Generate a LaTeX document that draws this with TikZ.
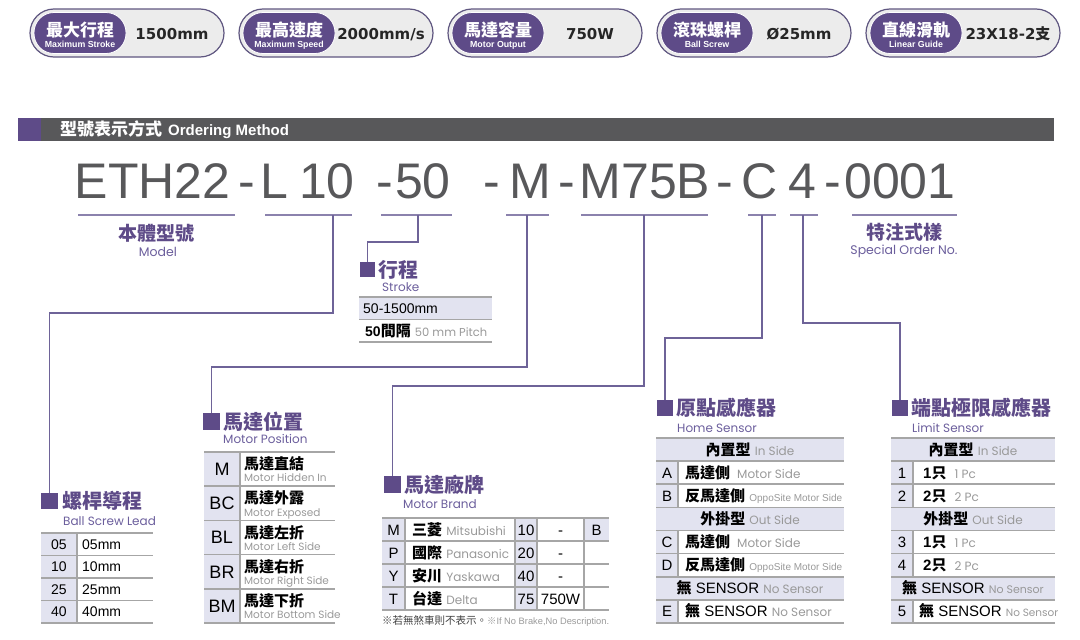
\documentclass[tikz,border=0pt]{standalone}
\usepackage{fontspec}
\setmainfont{Liberation Sans}
\newfontfamily\cjk{Noto Sans CJK TC}
\newfontfamily\geo{Poppins}
\newfontfamily\blockfont{DejaVu Sans}
\usetikzlibrary{positioning}

\definecolor{darkpurple}{HTML}{5E4B88}
\definecolor{subpurple}{HTML}{6B5E9C}
\definecolor{linepurple}{HTML}{6E6398}
\definecolor{lavender}{HTML}{E2E3F0}
\definecolor{rulegray}{HTML}{A6A6A6}
\definecolor{bargray}{HTML}{58585A}
\definecolor{codegray}{HTML}{58585A}
\definecolor{notegray}{HTML}{999999}
\definecolor{pillgray}{HTML}{ECECEC}
\definecolor{pilledge}{HTML}{5F5680}

\newcommand{\cnb}[1]{{\cjk\bfseries #1}}
\newcommand{\engray}[2][12]{{\geo\fontsize{#1}{#1}\selectfont\color{notegray}#2}}

\tikzset{
  pillout/.style={draw=pilledge, line width=1.2pt, fill=pillgray, rounded corners=24pt},
  pillin/.style={draw=white, line width=0.8pt, fill=darkpurple, rounded corners=20pt},
  pillcn/.style={anchor=base, inner sep=0pt, text=white, font=\cjk\bfseries\fontsize{17}{17}\selectfont},
  pillen/.style={anchor=base, inner sep=0pt, text=white, font=\bfseries\fontsize{8.8}{8.8}\selectfont},
  pillval/.style={anchor=base, inner sep=0pt, text=black!85, font=\blockfont\bfseries\fontsize{15}{15}\selectfont},
  codepart/.style={anchor=base, inner sep=0pt, text=codegray, font=\fontsize{50}{50}\selectfont},
  uline/.style={draw=linepurple!80, line width=1.1pt},
  connline/.style={draw=linepurple, line width=1.3pt},
  sqmark/.style={fill=darkpurple, minimum size=16.5pt, inner sep=0pt},
  ttl/.style={anchor=west, inner sep=0pt, text=darkpurple, font=\cjk\bfseries\fontsize{20}{20}\selectfont},
  subttl/.style={anchor=base west, inner sep=0pt, text=subpurple, font=\geo\fontsize{12}{12}\selectfont},
  lblcn/.style={anchor=base, inner sep=0pt, text=darkpurple, font=\cjk\bfseries\fontsize{19}{19}\selectfont},
  lblen/.style={anchor=base, inner sep=0pt, text=subpurple, font=\geo\fontsize{12.5}{12.5}\selectfont},
  hrule/.style={draw=rulegray, line width=1.6pt},
  vrule/.style={draw=rulegray, line width=1.2pt},
  celltxt/.style={anchor=base, inner sep=0pt, font=\fontsize{15}{15}\selectfont},
  cellleft/.style={anchor=base west, inner sep=0pt, font=\fontsize{15}{15}\selectfont},
}

\begin{document}
\begin{tikzpicture}[x=1pt, y=-1pt]
\useasboundingbox (0,0) rectangle (1080,640);

% badges
\foreach \cn/\en/\val [count=\i from 0] in {最大行程/Maximum Stroke/1500mm, 最高速度/Maximum Speed/{2000mm/s}, 馬達容量/Motor Output/750W, 滾珠螺桿/Ball Screw/Ø25mm, 直線滑軌/Linear Guide/{23X18-2{\cjk 支}}}{
  \pgfmathsetmacro{\xa}{30+209*\i}
  \draw[pillout] (\xa,9) rectangle ++(194,48);
  \draw[pillin] (\xa+4,12.5) rectangle ++(92,41);
  \node[pillcn] (pillcn\i) at (\xa+50,36.3) {\cn};
  \node[pillen] (pillen\i) at (\xa+50,47.2) {\en};
  \node[pillval] (pillval\i) at (\xa+142,39.5) {\val};
}

% title bar
\fill[bargray] (18,118) rectangle (1054,141);
\fill[darkpurple] (18,118) rectangle (41,141);
\node[anchor=base west, inner sep=0pt, text=white] (ordertitle) at (60,135.8)
{{\cjk\bfseries\fontsize{17}{17}\selectfont 型號表示方式}\hspace{6pt}{\bfseries\fontsize{15}{15}\selectfont Ordering Method}};

% code line
\node[codepart] (pmodel) at (152.5,198) {ETH22};
\node[codepart] (dash1) at (247,198) {-};
\node[codepart] (pl) at (274,198) {L};
\node[codepart] (plead) at (327,198) {10};
\node[codepart] (dash2) at (385,198) {-};
\node[codepart] (pstroke) at (423,198) {50};
\node[codepart] (dash3) at (492,198) {-};
\node[codepart] (pbrand) at (530,198) {M};
\node[codepart] (dash4) at (567,198) {-};
\node[codepart] (pmotor) at (645,198) {M75B};
\node[codepart] (dash5) at (725,198) {-};
\node[codepart] (phome) at (760,198) {C};
\node[codepart] (plimit) at (802,198) {4};
\node[codepart] (dash6) at (833,198) {-};
\node[codepart] (pspecial) at (900,198) {0001};

% underlines
\draw[uline] (78,215) -- (235,215);
\draw[uline] (265,215) -- (352,215);
\draw[uline] (381,215) -- (452,215);
\draw[uline] (506,215) -- (549,215);
\draw[uline] (581,215) -- (708,215);
\draw[uline] (748,215) -- (776,215);
\draw[uline] (790,215) -- (818,215);
\draw[uline] (852,215) -- (957,215);

\coordinate (clead) at (333,215);
\coordinate (cstroke) at (418,215);
\coordinate (cpos) at (527,215);
\coordinate (cbrand) at (644,215);
\coordinate (chome) at (762,215);
\coordinate (climit) at (803,215);

% labels under the code
\node[lblcn] (modelcn) at (156,240) {本體型號};
\node[lblen] (modelen) at (158,256.5) {Model};
\node[lblcn] (specialcn) at (904,239) {特注式樣};
\node[lblen] (specialen) at (904,254.5) {Special Order No.};

% section heads
\node[sqmark, minimum size=15pt] (strokesq) at (367.5,269.5) {};
\node[ttl, right=3pt of strokesq] (strokettl) {行程};
\node[subttl] (strokesub) at (382,291) {Stroke};

\node[sqmark] (leadsq) at (49.5,501) {};
\node[ttl, right=4pt of leadsq] (leadttl) {螺桿導程};
\node[subttl] (leadsub) at (63,525) {Ball Screw Lead};

\node[sqmark] (possq) at (211.5,421.5) {};
\node[ttl, right=3pt of possq] (posttl) {馬達位置};
\node[subttl] (possub) at (223,443) {Motor Position};

\node[sqmark] (brandsq) at (392.5,484.5) {};
\node[ttl, right=3pt of brandsq] (brandttl) {馬達廠牌};
\node[subttl] (brandsub) at (403,508) {Motor Brand};

\node[sqmark, minimum size=16pt] (homesq) at (665,408) {};
\node[ttl, right=3pt of homesq] (homettl) {原點感應器};
\node[subttl] (homesub) at (677,432) {Home Sensor};

\node[sqmark, minimum size=16pt] (limitsq) at (900,408) {};
\node[ttl, right=3pt of limitsq] (limitttl) {端點極限感應器};
\node[subttl] (limitsub) at (912,432) {Limit Sensor};

% connectors
\draw[connline] (clead) -- ++(0,98) -| (leadsq.north);
\draw[connline] (cstroke) -- ++(0,27) -| (strokesq.north);
\draw[connline] (cpos) -- ++(0,152) -| (possq.north);
\draw[connline] (cbrand) -- ++(0,171) -| (brandsq.north);
\draw[connline] (chome) -- ++(0,123) -| (homesq.north);
\draw[connline] (climit) -- ++(0,108) -| (limitsq.north);

% stroke table
\fill[lavender] (359,297) rectangle (492,319.5);
\draw[hrule] (359,297) -- (492,297);
\draw[hrule] (359,319.5) -- (492,319.5);
\draw[hrule] (359,342) -- (492,342);
\node[cellleft, font=\fontsize{14}{14}\selectfont] (strokerange) at (363,313) {50-1500mm};
\node[cellleft] (strokepitch) at (365,336) {{\bfseries\fontsize{14}{14}\selectfont 50}\cnb{間隔} \engray[11.5]{50 mm Pitch}};

% ball screw lead table
\fill[lavender] (41,533) rectangle (77,623);
\foreach \k in {0,...,4} \draw[hrule] (41,533+22.5*\k) -- (153,533+22.5*\k);
\draw[vrule] (77,533) -- (77,623);
\foreach \v [count=\i] in {05,10,25,40}{
  \node[celltxt, font=\fontsize{14}{14}\selectfont] (leadcode\i) at (59,526.75+22.5*\i) {\v};
  \node[cellleft, font=\fontsize{14}{14}\selectfont] (leadval\i) at (82,526.75+22.5*\i) {\v mm};
}

% motor position table
\fill[lavender] (204,452) rectangle (240,623);
\foreach \k in {0,...,5} \draw[hrule] (204,452+34.2*\k) -- (335,452+34.2*\k);
\draw[vrule] (240,452) -- (240,623);
\foreach \c/\cn/\en [count=\i from 0] in {M/馬達直結/Motor Hidden In, BC/馬達外露/Motor Exposed, BL/馬達左折/Motor Left Side, BR/馬達右折/Motor Right Side, BM/馬達下折/Motor Bottom Side}{
  \node[celltxt, font=\fontsize{18}{18}\selectfont] (posc\i) at (222,452+34.2*\i+23.5) {\c};
  \node[cellleft, font=\cjk\bfseries\fontsize{15}{15}\selectfont] (poscn\i) at (244,452+34.2*\i+17.6) {\cn};
  \node[cellleft, text=notegray, font=\geo\fontsize{10.5}{10.5}\selectfont] (posen\i) at (244,452+34.2*\i+29.9) {\en};
}

% motor brand table
\fill[lavender] (382,518) rectangle (405,610);
\fill[lavender] (515,518) rectangle (537,610);
\fill[lavender] (584,518) rectangle (609,541);
\foreach \k in {0,...,4} \draw[hrule] (382,518+23*\k) -- (609,518+23*\k);
\draw[vrule] (405,518) -- (405,610);
\draw[vrule, line width=2pt] (515,518) -- (515,610);
\draw[vrule] (537,518) -- (537,610);
\draw[vrule] (584,518) -- (584,610);
\foreach \c/\cn/\en/\n/\w [count=\i from 0] in {M/三菱/Mitsubishi/10/-, P/國際/Panasonic/20/-, Y/安川/Yaskawa/40/-, T/台達/Delta/75/750W}{
  \node[celltxt] (brandc\i) at (393.5,535+23*\i) {\c};
  \node[cellleft] (brandcn\i) at (412,535.2+23*\i) {\cnb{\cn} \engray[12]{\en}};
  \node[celltxt] (brandn\i) at (526,535+23*\i) {\n};
  \node[celltxt] (brandw\i) at (560.5,535+23*\i) {\w};
}
\node[celltxt] (brakeb) at (596.5,535) {B};
\node[anchor=base west, inner sep=0pt] (brakenote) at (382,624)
{{\cjk\fontsize{10.5}{10.5}\selectfont\color{black!75}※若無煞車則不表示。}{\color{notegray}\fontsize{9.3}{9.3}\selectfont{\cjk ※}If No Brake,No Description.}};

% home sensor table
\fill[lavender] (656,438) rectangle (844,461.1);
\fill[lavender] (656,507.4) rectangle (844,530.5);
\fill[lavender] (656,576.8) rectangle (844,599.9);
\fill[lavender] (656,461.1) rectangle (678,507.4);
\fill[lavender] (656,530.5) rectangle (678,576.8);
\fill[lavender] (656,599.9) rectangle (678,623);
\foreach \k in {0,...,8} \draw[hrule] (656,438+23.125*\k) -- (844,438+23.125*\k);
\draw[vrule] (678,461.1) -- (678,507.4);
\draw[vrule] (678,530.5) -- (678,576.8);
\draw[vrule] (678,599.9) -- (678,623);

\node[celltxt] (homehd1) at (750,455) {\cnb{內置型} \engray{In Side}};
\node[celltxt] (homea) at (667,478.1) {A};
\node[cellleft] (homeat) at (685,478.1) {\cnb{馬達側}\hspace{7pt}\engray{Motor Side}};
\node[celltxt] (homeb) at (667,501.2) {B};
\node[cellleft] (homebt) at (685,501.2) {\cnb{反馬達側} {\color{notegray}\fontsize{10}{10}\selectfont OppoSite Motor Side}};
\node[celltxt] (homehd2) at (750,524.3) {\cnb{外掛型} \engray{Out Side}};
\node[celltxt] (homec) at (667,547.5) {C};
\node[cellleft] (homect) at (685,547.5) {\cnb{馬達側}\hspace{7pt}\engray{Motor Side}};
\node[celltxt] (homed) at (667,570.6) {D};
\node[cellleft] (homedt) at (685,570.6) {\cnb{反馬達側} {\color{notegray}\fontsize{10}{10}\selectfont OppoSite Motor Side}};
\node[celltxt] (homehd3) at (750,593.7) {\cnb{無} SENSOR \engray{No Sensor}};
\node[celltxt] (homee) at (667,616.8) {E};
\node[cellleft] (homeet) at (685,616.8) {\cnb{無} SENSOR \engray{No Sensor}};

% limit sensor table
\fill[lavender] (891,438) rectangle (1055,461.1);
\fill[lavender] (891,507.4) rectangle (1055,530.5);
\fill[lavender] (891,576.8) rectangle (1055,599.9);
\fill[lavender] (891,461.1) rectangle (913,507.4);
\fill[lavender] (891,530.5) rectangle (913,576.8);
\fill[lavender] (891,599.9) rectangle (913,623);
\foreach \k in {0,...,8} \draw[hrule] (891,438+23.125*\k) -- (1055,438+23.125*\k);
\draw[vrule] (913,461.1) -- (913,507.4);
\draw[vrule] (913,530.5) -- (913,576.8);
\draw[vrule] (913,599.9) -- (913,623);

\node[celltxt] (limithd1) at (973,455) {\cnb{內置型} \engray{In Side}};
\node[celltxt] (limit1) at (902,478.1) {1};
\node[cellleft] (limit1t) at (923,478.1) {{\bfseries 1}\cnb{只}\hspace{8pt}\engray{1 Pc}};
\node[celltxt] (limit2) at (902,501.2) {2};
\node[cellleft] (limit2t) at (923,501.2) {{\bfseries 2}\cnb{只}\hspace{8pt}\engray{2 Pc}};
\node[celltxt] (limithd2) at (973,524.3) {\cnb{外掛型} \engray{Out Side}};
\node[celltxt] (limit3) at (902,547.5) {3};
\node[cellleft] (limit3t) at (923,547.5) {{\bfseries 1}\cnb{只}\hspace{8pt}\engray{1 Pc}};
\node[celltxt] (limit4) at (902,570.6) {4};
\node[cellleft] (limit4t) at (923,570.6) {{\bfseries 2}\cnb{只}\hspace{8pt}\engray{2 Pc}};
\node[celltxt] (limithd3) at (973,593.7) {\cnb{無} SENSOR \engray[11]{No Sensor}};
\node[celltxt] (limit5) at (902,616.8) {5};
\node[cellleft] (limit5t) at (919,616.8) {\cnb{無} SENSOR \engray[10.5]{No Sensor}};

\end{tikzpicture}
\end{document}
